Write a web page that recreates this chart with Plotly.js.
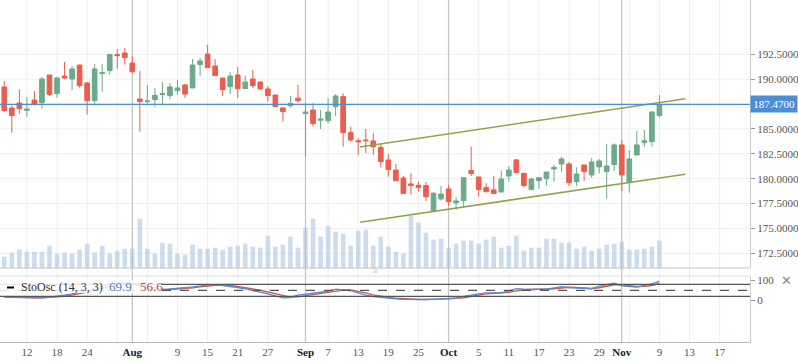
<!DOCTYPE html>
<html><head><meta charset="utf-8">
<script src="https://cdn.plot.ly/plotly-3.0.1.min.js"></script>
<style>html,body{margin:0;padding:0;background:#fff;}#chart{width:798px;height:363px;}</style>
</head><body><div id="chart"></div>
<script>
const open = [189.22,187.11,187.61,186.87,187.91,187.64,190.42,188.55,190.32,190.02,191.43,189.62,187.84,190.56,190.86,192.47,192.63,191.63,188.01,187.74,187.94,188.45,188.35,188.85,189.42,189.12,191.46,192.53,191.33,190.12,189.25,190.42,189.05,190.02,189.72,189.02,
188.41,187.11,187.34,188.08,186.54,186.90,185.87,185.83,187.24,188.25,184.63,183.82,183.89,183.79,183.15,181.88,180.87,180.07,179.47,179.33,179.30,176.69,177.96,178.97,177.56,177.79,180.81,180.17,179.10,178.87,178.66,
180.27,181.88,180.54,178.90,179.80,180.00,180.97,181.48,181.48,179.70,181.38,180.37,181.18,180.71,181.41,183.39,179.64,182.38,183.62,183.72,186.34];
const high = [189.82,187.31,188.98,188.21,188.81,190.22,190.42,190.22,191.73,191.33,191.43,189.72,191.53,191.53,192.53,193.04,193.14,192.30,190.83,189.42,189.12,189.72,189.62,189.92,189.52,192.03,192.13,193.44,192.03,190.12,190.72,191.23,190.32,190.92,189.72,189.32,
188.41,187.11,188.31,189.42,187.64,187.57,186.90,188.08,188.48,188.58,185.23,184.06,184.99,184.63,183.55,182.48,181.48,180.27,180.54,179.67,179.67,178.63,179.27,179.37,178.16,180.17,183.22,180.17,179.53,180.27,180.81,
181.28,181.98,180.54,180.04,180.17,180.67,181.38,182.21,181.68,181.14,181.38,182.08,181.98,183.49,183.55,183.89,182.88,184.79,184.89,186.80,188.41];
const low = [186.70,184.63,186.54,186.23,187.34,187.04,188.31,188.14,190.02,188.91,189.15,186.44,187.54,188.75,190.46,191.06,191.46,190.56,184.73,187.54,187.21,187.51,188.01,188.41,188.11,189.12,190.32,191.16,190.36,188.31,188.51,188.11,189.05,189.12,188.92,187.74,
187.24,185.73,187.14,187.64,182.21,185.23,185.00,185.53,186.30,183.22,183.69,182.38,182.55,182.38,181.11,180.20,179.80,178.50,178.40,178.70,177.76,176.69,177.79,177.29,176.85,177.19,180.27,178.20,178.60,178.50,178.66,
179.70,180.61,179.10,178.90,178.97,179.30,179.70,180.67,179.27,179.27,179.77,180.10,180.54,177.99,180.77,178.76,178.60,182.38,183.22,183.22,186.14];
const close = [186.84,186.34,187.04,187.01,187.51,190.02,188.45,190.12,190.12,191.03,189.35,187.84,191.03,190.66,192.47,192.37,192.17,190.76,187.74,187.81,188.38,188.55,189.22,189.12,188.51,191.43,191.83,191.16,190.36,188.95,190.32,189.05,189.72,189.35,189.02,188.35,
187.24,186.74,187.57,187.84,186.70,185.53,186.00,186.70,188.31,184.63,183.89,183.72,183.82,183.22,181.71,180.91,179.80,178.50,179.30,179.10,178.20,178.53,178.46,177.69,177.76,180.10,180.51,178.90,178.70,178.50,179.97,
180.87,180.61,179.30,179.97,180.10,180.67,181.14,181.98,179.60,180.47,180.71,181.68,181.78,181.28,183.39,180.37,181.98,183.39,183.82,186.70,187.47];
const volume = [11.3,15.3,18.3,16.3,16.3,16.3,22.3,14.3,15.3,14.3,18.3,24.3,15.3,22.3,14.3,17.3,19.3,19.3,49.3,19.3,14.3,25.3,24.3,14.3,13.3,23.3,19.3,19.3,20.3,18.3,21.3,22.3,24.3,21.3,20.3,32.3,
21.3,23.3,31.3,20.3,40.3,49.3,31.3,42.3,36.3,34.3,22.3,37.3,38.3,22.3,31.3,21.3,16.3,14.3,52.3,45.3,35.3,28.3,29.3,20.3,24.3,27.3,27.3,24.3,28.3,31.3,20.3,
22.3,32.3,17.3,20.3,20.3,29.3,29.3,25.3,25.3,19.3,21.3,17.3,19.3,23.3,24.3,26.3,18.3,18.3,19.3,21.3,27.3];
const stochK = [15,14,13,12,12,13,16,20,25,32,40,50,60,70,80,86,88,80,70,60,52,53,56,59,62,67,72,75,77,74,70,64,58,50,42,32,22,12,14,26,30,35,40,45,56,53,48,37,26,19,14,10,7,5,4,3,4,6,8,10,11,19,27,32,37,37,37,47,58,55,53,55,56,62,68,64,61,59,58,71,78,85,72,69,66,74,82,95];
const stochD = [18,16,14,13,12,12,14,16,20,26,32,41,50,60,70,79,85,85,79,70,61,55,54,56,59,63,67,71,75,75,74,69,64,57,50,41,32,22,16,17,23,30,35,40,47,51,52,46,37,27,20,14,10,7,5,4,4,4,6,8,10,13,19,26,32,35,37,40,47,53,55,54,55,58,62,65,64,61,59,63,69,78,78,75,69,70,74,84];
const tickPos  = [3,7,11,15,17,19,23,27,31,35,40,43,47,51,55,59,63,67,71,75,79,82,83,87,91,95];
const tickText = ['12','18','24','','Aug','','9','15','21','27','Sep','7','13','19','25','Oct','5','11','17','23','29','Nov','','9','13','17'];
const monthNames = ['Aug','Sep','Oct','Nov'];
const monthPos = [17,40,59,82];
const gridPos = [3,7,11,15,19,23,27,31,35,43,47,51,55,63,67,71,75,79,83,87,91,95];
const priceTicks = [172.5,175,177.5,180,182.5,185,190,192.5];
const priceGrid = [172.5,175,177.5,180,182.5,185,187.5,190,192.5];
const lastPrice = 187.47;
const channelX = [47.24, 90.44];
const channelUpper = [183.19, 188.04];
const channelLower = [175.62, 180.44];
const stochLevels = [80, 50, 20];
const stochName = 'StoOsc (14, 3, 3)';
const stochKLabel = '69.9';
const stochDLabel = '56.6';

const idx = open.map((_, i) => i);
const GREEN = '#6caa8c', RED = '#ea5e4e';
const PW = 750, PH = 342; // plot area size in px (for paper placement of overlay texts)

const traces = [
  {type:'bar', x:idx, y:volume, yaxis:'y3', xaxis:'x', width:0.62,
   marker:{color:'rgba(165,192,226,0.55)', line:{width:0}}, hoverinfo:'skip'},
  {type:'candlestick', x:idx, open:open, high:high, low:low, close:close, xaxis:'x', yaxis:'y',
   whiskerwidth:0,
   increasing:{line:{color:GREEN, width:1}, fillcolor:GREEN},
   decreasing:{line:{color:RED, width:1}, fillcolor:RED}},
  {type:'scatter', mode:'lines', x:channelX, y:channelUpper, xaxis:'x', yaxis:'y', line:{color:'#8ea54f', width:1.6}},
  {type:'scatter', mode:'lines', x:channelX, y:channelLower, xaxis:'x', yaxis:'y', line:{color:'#8ea54f', width:1.6}},
  {type:'scatter', mode:'lines', x:idx, y:stochD, xaxis:'x', yaxis:'y2', line:{color:'#c9585a', width:1.4}},
  {type:'scatter', mode:'lines', x:idx, y:stochK, xaxis:'x', yaxis:'y2', line:{color:'#5b8bd0', width:1.4}}
];

const shapes = [];
gridPos.forEach(p => shapes.push({type:'line', xref:'x', yref:'paper', x0:p, x1:p, y0:0, y1:1, layer:'below', line:{color:'#eeeeee', width:1}}));
priceGrid.forEach(v => shapes.push({type:'line', xref:'paper', yref:'y', x0:0, x1:1, y0:v, y1:v, layer:'below', line:{color:'#efefef', width:1}}));
monthPos.forEach(p => shapes.push({type:'line', xref:'x', yref:'paper', x0:p, x1:p, y0:0, y1:1, layer:'below', line:{color:'#c6c6c6', width:1.3}}));
shapes.push({type:'line', xref:'paper', yref:'y domain', x0:0, x1:1, y0:0, y1:0, line:{color:'#c4c4c4', width:1}});
shapes.push({type:'line', xref:'paper', yref:'y2 domain', x0:0, x1:1, y0:1, y1:1, line:{color:'#dddddd', width:1}});
stochLevels.forEach(v => shapes.push({type:'line', xref:'paper', yref:'y2', x0:0, x1:1, y0:v, y1:v,
  line:{color:'#555555', width:1.2, dash: v === 50 ? 'dash' : 'solid'}}));
shapes.push({type:'line', xref:'paper', yref:'y', x0:0, x1:1, y0:lastPrice, y1:lastPrice, line:{color:'#4a8fd6', width:1.2}});
// legend backdrop + marker dash in the oscillator pane
shapes.push({type:'rect', xref:'paper', yref:'paper', x0:0, x1:161/PW, y0:(PH-293)/PH, y1:(PH-280)/PH,
  fillcolor:'rgba(255,255,255,0.85)', line:{width:0}});
shapes.push({type:'line', xref:'paper', yref:'paper', x0:7/PW, x1:14/PW, y0:(PH-287.5)/PH, y1:(PH-287.5)/PH, line:{color:'#000', width:2}});

const labelText = tickText.map((t) => monthNames.includes(t) ? '<span style="color:#222"><b>' + t + '</b></span>' : t);
const legY = (PH - 286.5) / PH;

const layout = {
  width:798, height:363,
  margin:{l:0, r:48, t:0, b:21, pad:0},
  paper_bgcolor:'#ffffff', plot_bgcolor:'#ffffff',
  showlegend:false,
  font:{family:'Liberation Serif, Times New Roman, serif', size:11, color:'#555'},
  boxgap:0.38, boxgroupgap:0, bargap:0.38,
  xaxis:{range:[-0.571, 99.03], tickmode:'array', tickvals:tickPos, ticktext:labelText,
         showgrid:false, zeroline:false, showline:true, linecolor:'#bbbbbb', linewidth:1,
         anchor:'y2', ticks:'', tickfont:{size:11, color:'#555'}, rangeslider:{visible:false}, fixedrange:true},
  yaxis:{domain:[0.2164, 1], range:[171.02, 197.96], side:'right', anchor:'x', tickmode:'array', tickvals:priceTicks,
         tickformat:'.4f', showgrid:false, ticks:'outside', ticklen:4, tickcolor:'#999',
         showline:true, linecolor:'#cccccc', zeroline:false, tickfont:{size:11, color:'#555'}, fixedrange:true},
  yaxis2:{domain:[0, 0.193], range:[-208.5, 121.5], side:'right', anchor:'x', tickmode:'array', tickvals:[0,100],
          ticks:'outside', ticklen:4, tickcolor:'#999', showgrid:false, showline:true, linecolor:'#cccccc',
          zeroline:false, tickfont:{size:11, color:'#555'}, fixedrange:true},
  yaxis3:{overlaying:'y', range:[0, 268], visible:false, fixedrange:true},
  shapes:shapes,
  annotations:[
    {xref:'paper', yref:'y', x:1, y:lastPrice, xanchor:'left', yanchor:'middle', showarrow:false,
     text:lastPrice.toFixed(4), font:{color:'#ffffff', size:11}, bgcolor:'#4a8fd6', width:44, height:14, borderpad:1, align:'center'},
    {xref:'paper', yref:'paper', x:19/PW, y:legY, xanchor:'left', yanchor:'middle', showarrow:false,
     text:stochName, font:{size:12, color:'#333'}},
    {xref:'paper', yref:'paper', x:107/PW, y:legY, xanchor:'left', yanchor:'middle', showarrow:false,
     text:stochKLabel, font:{size:13, color:'#4a7dc0'}},
    {xref:'paper', yref:'paper', x:138/PW, y:legY, xanchor:'left', yanchor:'middle', showarrow:false,
     text:stochDLabel, font:{size:13, color:'#c0504d'}},
    {xref:'paper', yref:'paper', x:786/PW, y:(PH-280)/PH, xanchor:'center', yanchor:'middle', showarrow:false,
     text:'\u2715', font:{size:13, color:'#888'}},
    {xref:'paper', yref:'paper', x:375/PW, y:(PH-271)/PH, xanchor:'center', yanchor:'middle', showarrow:false,
     text:'\u2261', font:{size:11, color:'#cccccc'}}
  ]
};

Plotly.newPlot('chart', traces, layout, {displayModeBar:false, staticPlot:true});
</script>
</body></html>
